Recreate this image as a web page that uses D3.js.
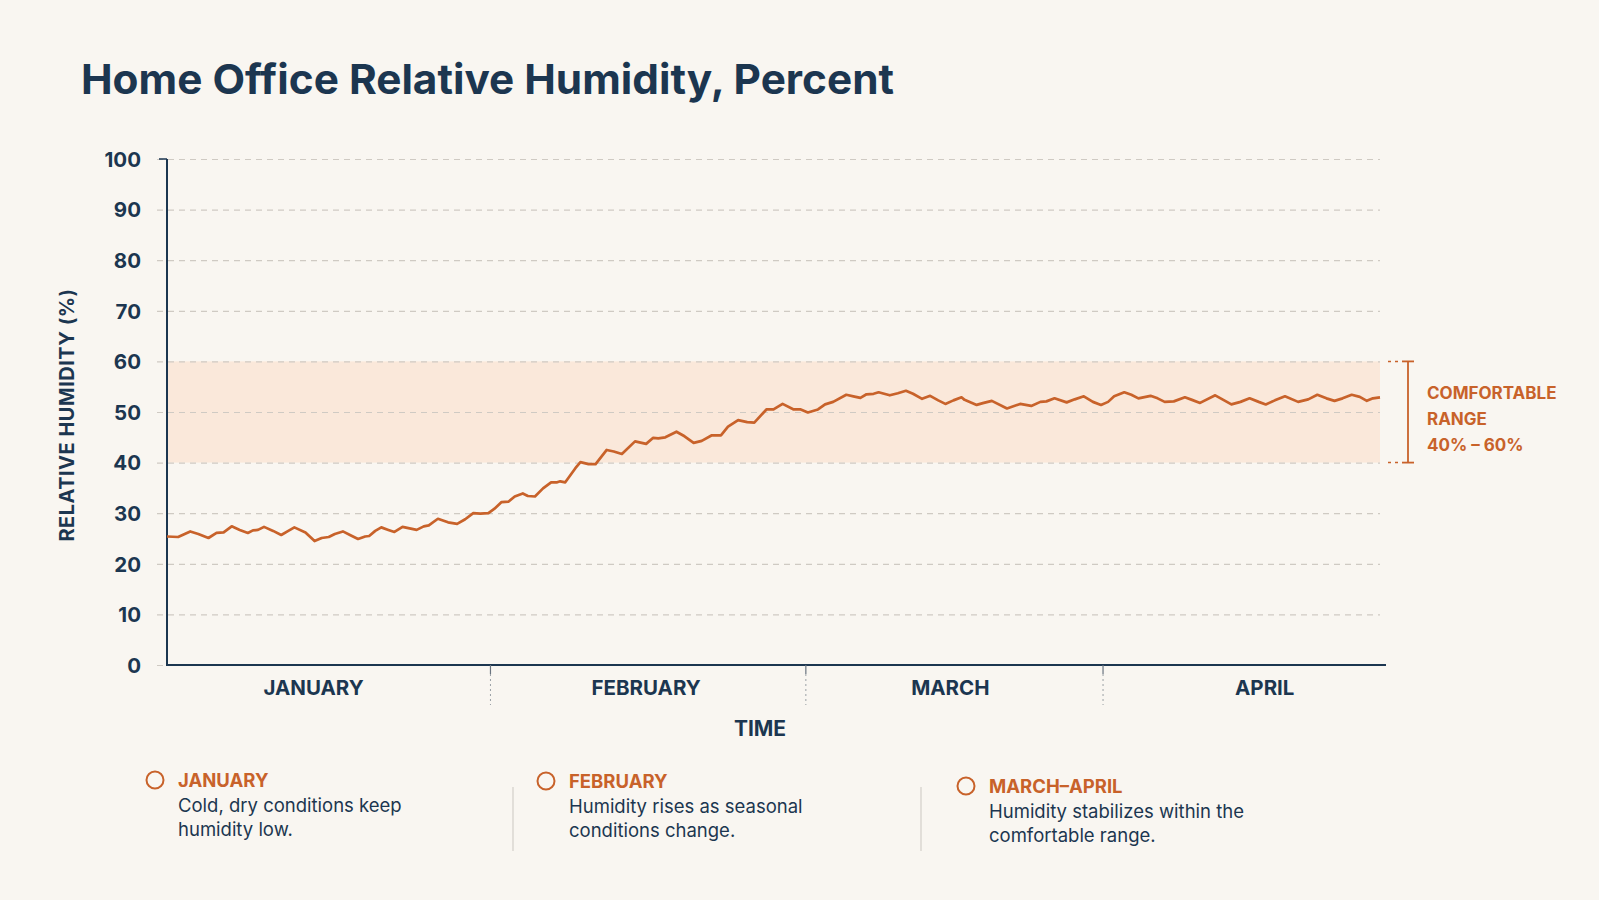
<!DOCTYPE html>
<html>
<head>
<meta charset="utf-8">
<script src="https://cdn.jsdelivr.net/npm/d3@7"></script>
<style>
  html, body { margin: 0; padding: 0; background: #f9f6f1; }
  svg { display: block; }
  text { font-family: Inter, "Noto Sans", sans-serif; }
</style>
</head>
<body>
<svg id="chart" width="1599" height="900"></svg>
<script>
// ---- data ----
const title = "Home Office Relative Humidity, Percent";
const days = [0,1.1,2.3,3.1,4.1,4.9,5.6,6.4,7.2,8.0,8.5,9.0,9.6,10.5,11.3,12.0,12.6,13.7,14.6,15.3,16.0,16.6,17.4,18.2,18.9,19.6,20.0,20.6,21.2,21.9,22.5,23.3,24.0,24.7,25.4,25.9,26.8,27.8,28.7,29.5,30.3,31.0,31.8,32.4,33.1,33.8,34.4,35.2,35.7,36.4,37.2,38.0,38.6,38.9,39.4,40.4,40.9,41.7,42.4,43.5,44.2,45.0,46.3,47.4,48.1,48.6,49.3,50.4,51.2,52.1,52.9,53.9,54.8,55.5,56.5,57.4,58.1,59.3,60.0,60.9,62.0,62.7,63.4,64.4,65.1,65.9,67.2,67.9,68.6,69.2,69.9,70.4,71.5,72.3,73.1,73.8,74.7,75.5,76.3,77.0,77.8,78.6,78.9,80.1,80.8,81.6,83.1,84.4,85.5,86.4,87.0,87.8,89.0,89.8,90.7,91.6,92.4,93.1,93.7,94.7,95.4,96.1,97.3,98.0,98.7,99.6,100.7,101.4,102.2,103.7,104.5,105.3,106.2,107.1,108.0,108.7,109.6,110.6,111.9,112.9,113.8,114.7,115.5,116.3,117.2,118.0,118.7,119.3,120.0];
const humidity = [25.4,25.3,26.4,25.9,25.1,26.1,26.2,27.4,26.7,26.1,26.6,26.7,27.3,26.5,25.7,26.5,27.2,26.2,24.5,25.1,25.3,25.9,26.4,25.6,24.9,25.4,25.5,26.5,27.2,26.7,26.3,27.3,27.0,26.7,27.4,27.6,28.9,28.2,27.9,28.8,30.0,29.9,30.0,30.9,32.2,32.3,33.3,33.9,33.4,33.3,34.9,36.1,36.1,36.3,36.1,38.9,40.1,39.7,39.7,42.5,42.2,41.7,44.2,43.7,44.9,44.8,45.0,46.1,45.2,43.9,44.3,45.4,45.4,47.1,48.4,48.0,47.9,50.5,50.5,51.6,50.5,50.5,49.9,50.5,51.5,52.0,53.4,53.1,52.8,53.5,53.6,53.9,53.3,53.7,54.2,53.6,52.6,53.2,52.3,51.6,52.3,52.9,52.4,51.4,51.8,52.2,50.7,51.6,51.2,52.0,52.1,52.7,51.9,52.5,53.1,52.0,51.4,52.0,53.1,53.9,53.4,52.7,53.2,52.7,52.0,52.1,52.9,52.4,51.8,53.3,52.4,51.5,52.0,52.7,52.0,51.5,52.3,53.1,52.0,52.5,53.4,52.7,52.2,52.7,53.4,53.0,52.2,52.7,52.9];
const yTicks = [0,10,20,30,40,50,60,70,80,90,100];
const months = ["JANUARY","FEBRUARY","MARCH","APRIL"];
const monthCenters = [14.5, 47.4, 77.5, 108.6];
const monthBoundaries = [32.0, 63.2, 92.6];
const comfortRange = [40, 60];
const rangeLabel = ["COMFORTABLE", "RANGE", "40% \u2013 60%"];
const notesHeads = ["JANUARY", "FEBRUARY", "MARCH\u2013APRIL"];
const notesBody = [
  ["Cold, dry conditions keep", "humidity low."],
  ["Humidity rises as seasonal", "conditions change."],
  ["Humidity stabilizes within the", "comfortable range."]
];

// ---- styles ----
const NAVY = "#1c3650";
const ORANGE = "#c8622a";
const BAND = "#fae8da";
const GRID = "#cfcac3";

const svg = d3.select("#chart");
const pLeft = 167, pRight = 1380, pTop = 159, pBottom = 665;
const x = d3.scaleLinear().domain([0, 120]).range([pLeft, pRight]);
const y = d3.scaleLinear().domain([0, 100]).range([pBottom, pTop]);

// title
svg.append("text").attr("x", 81).attr("y", 94)
  .attr("font-size", 41).attr("font-weight", 700).attr("fill", NAVY).text(title)
  .attr("textLength", 813).attr("lengthAdjust", "spacingAndGlyphs");

// band
svg.append("rect").attr("x", pLeft).attr("y", y(comfortRange[1]))
  .attr("width", pRight - pLeft).attr("height", y(comfortRange[0]) - y(comfortRange[1]))
  .attr("fill", BAND);

// gridlines via axis
const yAxis = d3.axisLeft(y).tickValues(yTicks).tickSize(-(pRight - pLeft) - 10).tickFormat(d => d);
const gy = svg.append("g").attr("transform", `translate(${pLeft - 10},0)`).call(yAxis);
gy.select(".domain").remove();
gy.selectAll(".tick line").attr("stroke", GRID).attr("stroke-width", 1.2).attr("stroke-dasharray", "6,5");
gy.selectAll(".tick text").attr("x", -16).attr("dy", "0.36em")
  .attr("font-size", 20.5).attr("font-weight", 700).attr("fill", NAVY)
  .style("font-family", "Inter, sans-serif");

// y axis line
svg.append("line").attr("x1", pLeft).attr("x2", pLeft).attr("y1", y(100)).attr("y2", pBottom + 1)
  .attr("stroke", NAVY).attr("stroke-width", 2);
svg.append("line").attr("x1", pLeft - 8).attr("x2", pLeft).attr("y1", y(100)).attr("y2", y(100))
  .attr("stroke", NAVY).attr("stroke-width", 1.5);

// x axis
svg.append("line").attr("x1", pLeft - 1).attr("x2", pRight + 6).attr("y1", pBottom).attr("y2", pBottom)
  .attr("stroke", NAVY).attr("stroke-width", 2);
const gb = svg.append("g");
monthBoundaries.forEach(d => {
  gb.append("line").attr("x1", x(d)).attr("x2", x(d)).attr("y1", pBottom).attr("y2", pBottom + 9)
    .attr("stroke", "#6a7480").attr("stroke-width", 1.2);
  gb.append("line").attr("x1", x(d)).attr("x2", x(d)).attr("y1", pBottom + 9).attr("y2", pBottom + 40)
    .attr("stroke", "#9aa0a6").attr("stroke-width", 1).attr("stroke-dasharray", "2,3");
});
svg.append("g").selectAll("text").data(months).join("text")
  .attr("x", (d, i) => x(monthCenters[i])).attr("y", 695)
  .attr("text-anchor", "middle").attr("font-size", 20.5).attr("font-weight", 700)
  .attr("fill", NAVY).text(d => d);

// axis titles
svg.append("text").attr("x", 760).attr("y", 736).attr("text-anchor", "middle")
  .attr("font-size", 21).attr("font-weight", 700).attr("fill", NAVY).text("TIME");
svg.append("text").attr("transform", "translate(74,415) rotate(-90)")
  .attr("text-anchor", "middle").attr("font-size", 20).attr("font-weight", 700)
  .attr("fill", NAVY).attr("letter-spacing", 0.5).text("RELATIVE HUMIDITY (%)");

// line
const pts = days.map((d, i) => [d, humidity[i]]);
svg.append("path").datum(pts)
  .attr("d", d3.line().x(d => x(d[0])).y(d => y(d[1])))
  .attr("fill", "none").attr("stroke", ORANGE).attr("stroke-width", 2.7)
  .attr("stroke-linejoin", "round");

// range bracket
const bx = 1408;
const gr = svg.append("g").attr("stroke", ORANGE);
comfortRange.forEach(v => {
  gr.append("line").attr("x1", pRight + 8).attr("x2", bx - 6).attr("y1", y(v)).attr("y2", y(v))
    .attr("stroke-width", 1.5).attr("stroke-dasharray", "3,4");
  gr.append("line").attr("x1", bx - 6).attr("x2", bx + 6).attr("y1", y(v)).attr("y2", y(v))
    .attr("stroke-width", 1.8);
});
gr.append("line").attr("x1", bx).attr("x2", bx).attr("y1", y(comfortRange[1])).attr("y2", y(comfortRange[0]))
  .attr("stroke-width", 1.8);
svg.append("g").selectAll("text").data(rangeLabel).join("text")
  .attr("x", 1427).attr("y", (d, i) => 399 + i * 26)
  .attr("font-size", 17).attr("font-weight", 700).attr("fill", ORANGE)
  .attr("xml:space", "preserve").text(d => d);

// notes
const noteX = [155, 546, 966];
const noteY = [780, 781, 786];
const sepX = [513, 921];
sepX.forEach(sx => svg.append("line").attr("x1", sx).attr("x2", sx).attr("y1", 787).attr("y2", 851)
  .attr("stroke", "#d6d2cc").attr("stroke-width", 1.3));
notesHeads.forEach((h, i) => {
  const g = svg.append("g");
  g.append("circle").attr("cx", noteX[i]).attr("cy", noteY[i]).attr("r", 8.5)
    .attr("fill", "none").attr("stroke", ORANGE).attr("stroke-width", 2);
  g.append("text").attr("x", noteX[i] + 23).attr("y", noteY[i] + 6.5)
    .attr("font-size", 18.5).attr("font-weight", 700).attr("fill", ORANGE).text(h);
  notesBody[i].forEach((line, j) => {
    g.append("text").attr("x", noteX[i] + 23).attr("y", noteY[i] + 32 + j * 24)
      .attr("font-size", 18.5).attr("font-weight", 400).attr("fill", NAVY).text(line);
  });
});
</script>
</body>
</html>
